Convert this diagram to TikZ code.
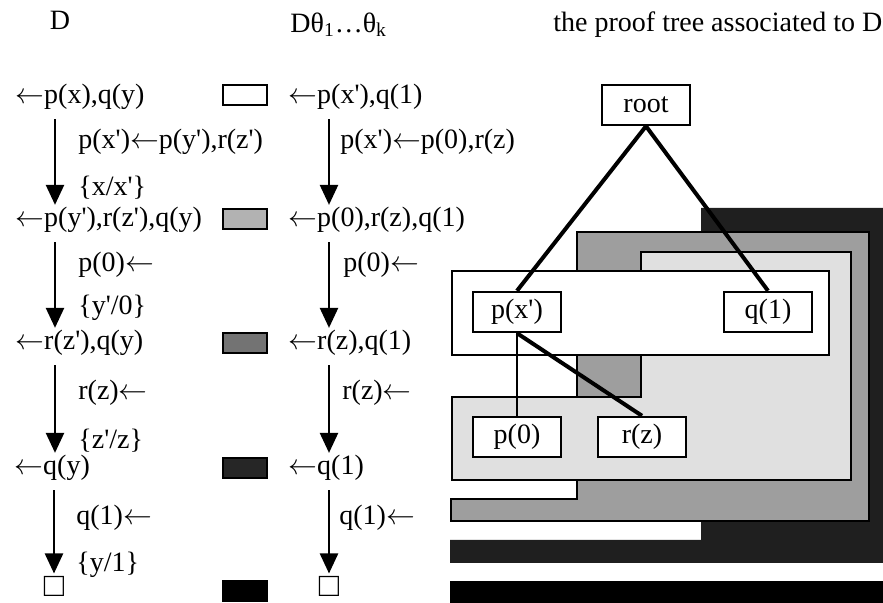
\documentclass[tikz,border=0pt]{standalone}
\usepackage{fontspec}
\newfontfamily\tmsfont{Liberation Serif}
\usepackage{tikz}
\usetikzlibrary{arrows.meta,calc}
\newcommand{\lar}{\ensuremath{\leftarrow}}

\begin{document}
\begin{tikzpicture}[x=0.5pt,y=-0.5pt,
	every node/.style={font=\tmsfont\fontsize{14}{16}\selectfont},
	goal/.style={anchor=west,inner sep=0pt},
	rul/.style={anchor=west,inner sep=0pt},
	empty/.style={inner sep=0pt,scale=1.2},
	shadebox/.style={draw,line width=1.2pt,minimum width=22pt,minimum height=10pt,inner sep=0pt},
	derive/.style={line width=1.2pt,-{Triangle[width=9pt,length=10pt]}},
	tnode/.style={draw,fill=white,line width=1.2pt,minimum width=44pt,minimum height=20pt,inner sep=0pt},
	layer/.style={draw,line width=1.1pt},
	tedge/.style={line width=2pt}]
	\useasboundingbox (0,0) rectangle (883,603);
	\node (hD) at (60,20) {D};
	\node[goal] (hDt) at (290,25) {Dθ\textsubscript{1}…θ\textsubscript{k}};
	\node[goal] (hT) at (553,25) {the proof tree associated to D};
	\node[goal] (d1) at (15,97) {\lar p(x),q(y)};
	\node[goal] (d2) at (15,220) {\lar p(y'),r(z'),q(y)};
	\node[goal] (d3) at (15,343) {\lar r(z'),q(y)};
	\node[goal] (d4) at (14,468) {\lar q(y)};
	\node[empty] (d5) at (54,586) {□};
	\node[rul] (c1) at (78,142) {p(x')\lar p(y'),r(z')};
	\node[rul] (u1) at (78,188) {\{x/x'\}};
	\node[rul] (c2) at (78,265) {p(0)\lar};
	\node[rul] (u2) at (78,308) {\{y'/0\}};
	\node[rul] (c3) at (78,393) {r(z)\lar};
	\node[rul] (u3) at (78,441) {\{z'/z\}};
	\node[rul] (c4) at (76,518) {q(1)\lar};
	\node[rul] (u4) at (76,565) {\{y/1\}};
	\draw[derive] ([xshift=20pt,yshift=-4.5pt]d1.south west) -- ([xshift=20pt,yshift=1pt]d2.north west);
	\draw[derive] ([xshift=20pt,yshift=-4.5pt]d2.south west) -- ([xshift=20pt,yshift=1pt]d3.north west);
	\draw[derive] ([xshift=20pt,yshift=-4.5pt]d3.south west) -- ([xshift=20.5pt,yshift=1pt]d4.north west);
	\draw[derive] ([xshift=20pt,yshift=-4.5pt]d4.south west) -- ([yshift=1pt]d5.north);
	\node[shadebox,fill=white] (s1) at (245,95) {};
	\node[shadebox,fill=black!30] (s2) at (245,219) {};
	\node[shadebox,fill=black!55] (s3) at (245,343) {};
	\node[shadebox,fill=black!85] (s4) at (245,468) {};
	\node[shadebox,fill=black] (s5) at (245,591) {};
	\node[goal] (e1) at (288,97) {\lar p(x'),q(1)};
	\node[goal] (e2) at (288,220) {\lar p(0),r(z),q(1)};
	\node[goal] (e3) at (288,343) {\lar r(z),q(1)};
	\node[goal] (e4) at (288,468) {\lar q(1)};
	\node[empty] (e5) at (329,586) {□};
	\node[rul] (f1) at (340,142) {p(x')\lar p(0),r(z)};
	\node[rul] (f2) at (343,265) {p(0)\lar};
	\node[rul] (f3) at (342,393) {r(z)\lar};
	\node[rul] (f4) at (339,518) {q(1)\lar};
	\draw[derive] ([xshift=20.5pt,yshift=-4.5pt]e1.south west) -- ([xshift=20.5pt,yshift=1pt]e2.north west);
	\draw[derive] ([xshift=20.5pt,yshift=-4.5pt]e2.south west) -- ([xshift=20.5pt,yshift=1pt]e3.north west);
	\draw[derive] ([xshift=20.5pt,yshift=-4.5pt]e3.south west) -- ([xshift=20.5pt,yshift=1pt]e4.north west);
	\draw[derive] ([xshift=20.5pt,yshift=-4.5pt]e4.south west) -- ([yshift=1pt]e5.north);
	\fill[black] (450,581) rectangle (883,603);
	\fill[black!88] (701,208) -- (883,208) -- (883,563) -- (450,563) -- (450,540) -- (701,540) -- cycle;
	\draw[layer,fill=black!38] (577,232) -- (869,232) -- (869,521) -- (451,521) -- (451,499) -- (577,499) -- cycle;
	\draw[layer,fill=black!12] (641,252) -- (851,252) -- (851,480) -- (452,480) -- (452,397) -- (641,397) -- cycle;
	\draw[layer,fill=white] (452,271) rectangle (829,355);
	\node[tnode] (root) at (646,105) {root};
	\node[tnode] (px) at (517,312) {p(x')};
	\node[tnode] (q1) at (768,312) {q(1)};
	\node[tnode] (p0) at (517,437) {p(0)};
	\node[tnode] (rz) at (642,437) {r(z)};
	\draw[tedge] (root.south) -- (px.north);
	\draw[tedge] (root.south) -- (q1.north);
	\draw[line width=1pt] (px.south) -- (p0.north);
	\draw[tedge] (px.south) -- (rz.north);
\end{tikzpicture}
\end{document}
